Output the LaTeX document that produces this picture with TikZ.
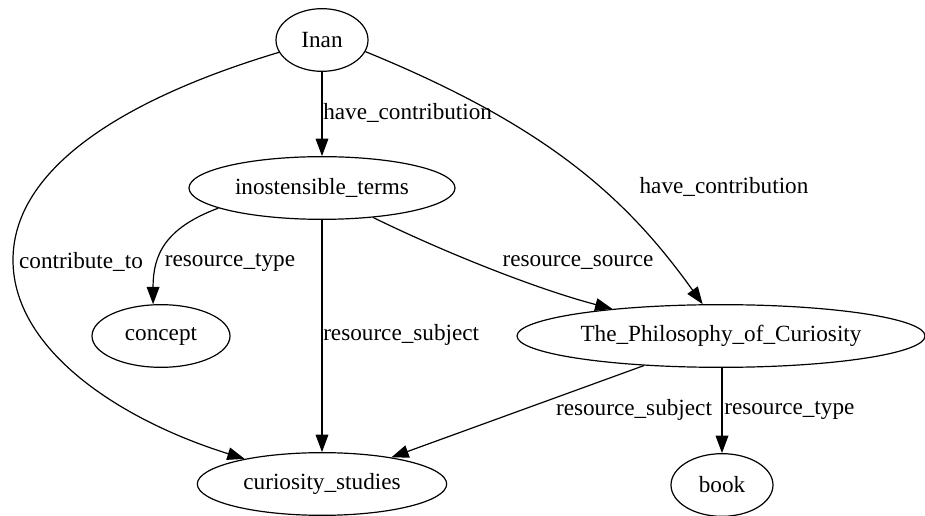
\documentclass[tikz,border=0pt]{standalone}
\usepackage{fontspec}
\setmainfont{Liberation Serif}
\usetikzlibrary{shapes.geometric,arrows.meta}
\begin{document}
\begin{tikzpicture}[x=0.75pt, y=-0.75pt,
    ent/.style={draw, ellipse, line width=0.9pt, inner sep=0pt, minimum height=47pt,
      font=\fontsize{17.4}{20}\selectfont},
    rel/.style={draw, line width=0.9pt, -{Triangle[length=13pt, width=9.5pt]}},
    lbl/.style={inner sep=0pt, font=\fontsize{17.4}{20}\selectfont}]
  \useasboundingbox (0,0) rectangle (925,516);
  % nodes
  \node[ent, minimum width=69pt] (inan) at (322,40) {Inan};
  \node[ent, minimum width=199.5pt] (terms) at (322,188) {inostensible\_terms};
  \node[ent, minimum width=103.5pt] (concept) at (161,336) {concept};
  \node[ent, minimum width=306pt] (philo) at (721,336) {The\_Philosophy\_of\_Curiosity};
  \node[ent, minimum width=187pt] (studies) at (322,484) {curiosity\_studies};
  \node[ent, minimum width=76.5pt] (book) at (722,485) {book};
  % edges
  \draw[rel] (inan) -- (terms);
  \draw[rel] (inan.196) .. controls (120,100) and (13,170) .. (13,260)
    .. controls (13,350) and (120,420) .. (studies.162);
  \draw[rel] (inan.-15) .. controls (550,127) and (628,200) .. (philo.120);
  \draw[rel] (terms.191) .. controls (165,228) and (153,255) .. (concept.104);
  \draw[rel] (terms) -- (studies);
  \draw[rel] (terms.-30) .. controls (450,255) and (540,290) .. (philo.166);
  \draw[rel] (philo.201) -- (studies.21);
  \draw[rel] (philo.south -| book) -- (book);
  % labels
  \node[lbl, anchor=west] (l1) at (323,113) {have\_contribution};
  \node[lbl] (l2) at (81,262) {contribute\_to};
  \node[lbl] (l3) at (724,187) {have\_contribution};
  \node[lbl] (l4) at (230,262) {resource\_type};
  \node[lbl] (l5) at (578,263) {resource\_source};
  \node[lbl, anchor=west] (l6) at (323,335) {resource\_subject};
  \node[lbl] (l7) at (634,410) {resource\_subject};
  \node[lbl, anchor=west] (l8) at (724,410) {resource\_type};
\end{tikzpicture}
\end{document}
